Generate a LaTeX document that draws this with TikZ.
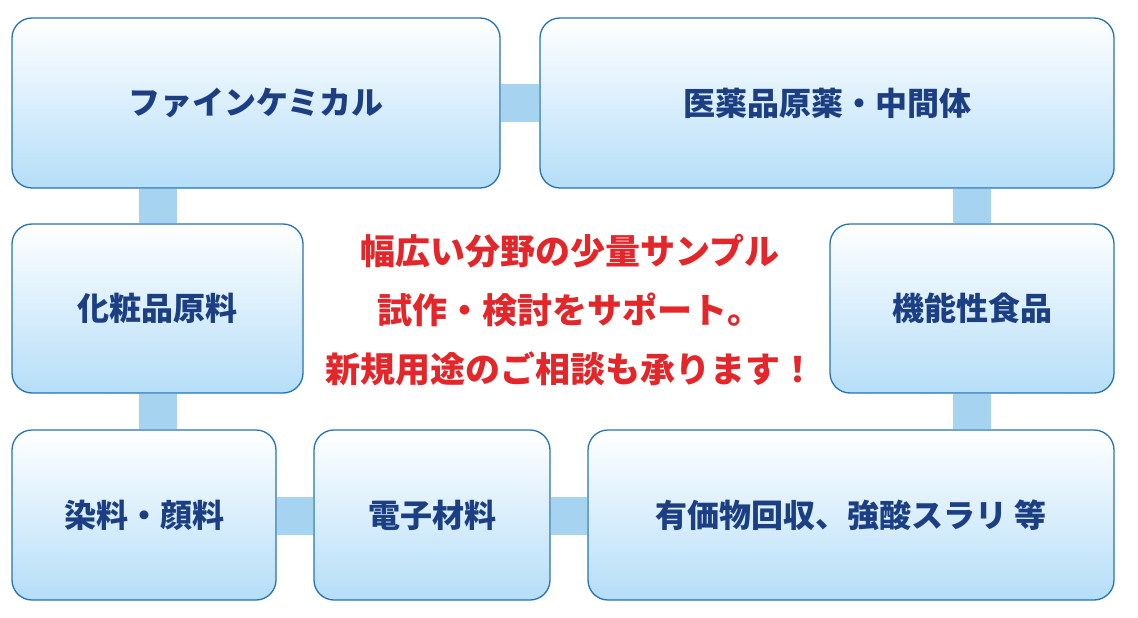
\documentclass[tikz,border=0pt]{standalone}
\usepackage{fontspec}
\newfontfamily\jp{Noto Sans CJK JP}
\usetikzlibrary{backgrounds}
\definecolor{edge}{HTML}{2474B5}
\definecolor{fillb}{HTML}{B5DEF8}
\definecolor{bar}{HTML}{A6D3F0}
\definecolor{navy}{HTML}{1C3F84}
\definecolor{redt}{HTML}{E3262A}
\tikzset{
 box/.style={draw=edge,line width=1.3pt,rounded corners=20pt,top color=white,bottom color=fillb,
   font=\jp\bfseries\fontsize{32}{36}\selectfont,text=navy,inner sep=0pt},
 link/.style={bar,line width=38pt}
}
\begin{document}
\begin{tikzpicture}[x=1pt,y=-1pt]
\useasboundingbox (0,0) rectangle (1138,618);
\newcommand\bx[6]{\node[box,minimum width=#4-#2,minimum height=#5-#3] (#1) at ({(#2+#4)/2},{(#3+#5)/2}) {#6};}
\bx{a}{12}{18}{500}{188}{ファインケミカル}
\bx{b}{540}{18}{1114}{188}{医薬品原薬・中間体}
\bx{c}{12}{224}{303}{393}{化粧品原料}
\bx{d}{830}{224}{1114}{393}{機能性食品}
\bx{e}{12}{430}{276}{600}{染料・顔料}
\bx{f}{314}{430}{550}{600}{電子材料}
\bx{g}{588}{430}{1114}{600}{有価物回収、強酸スラリ 等}
\begin{scope}[on background layer]
\draw[link] (a.east|-0,103) -- (b.west|-0,103);
\draw[link] (a.south-|158,0) -- (c.north-|158,0);
\draw[link] (c.south-|158,0) -- (e.north-|158,0);
\draw[link] (b.south-|972,0) -- (d.north-|972,0);
\draw[link] (d.south-|972,0) -- (g.north-|972,0);
\draw[link] (e.east|-0,516) -- (f.west|-0,516);
\draw[link] (f.east|-0,516) -- (g.west|-0,516);
\end{scope}
\node[font=\jp\bfseries\fontsize{35}{59}\selectfont,text=redt,align=center] (t) at (570,310)
 {幅広い分野の少量サンプル\\試作・検討をサポート。\\新規用途のご相談も承ります！};
\end{tikzpicture}
\end{document}
